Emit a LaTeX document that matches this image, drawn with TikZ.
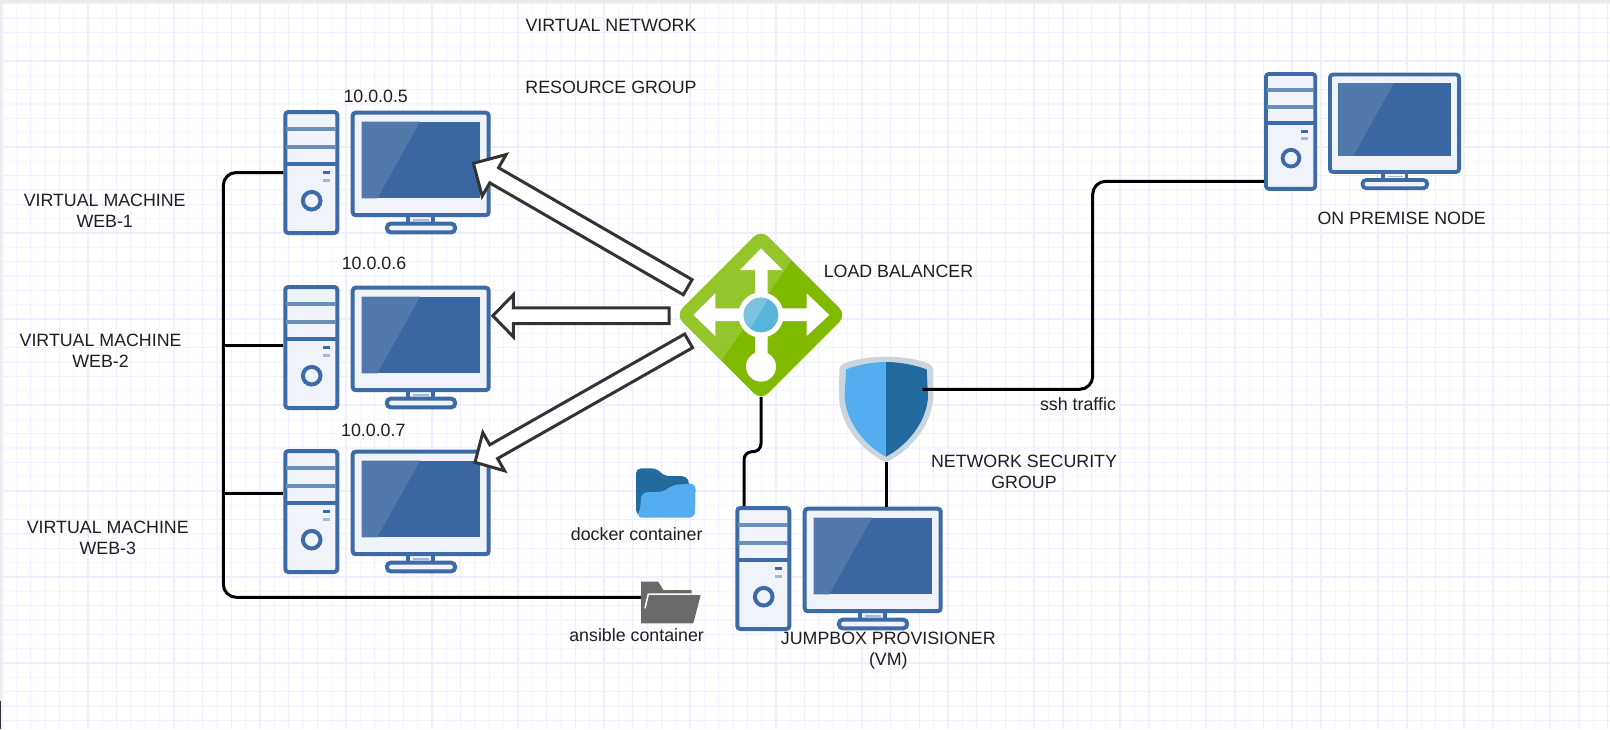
\documentclass[tikz,border=0pt]{standalone}
\usepackage{fontspec}
\setmainfont{Liberation Sans}
\usetikzlibrary{calc}
\definecolor{pcblue}{HTML}{3C6BA7}
\definecolor{pcstripe}{HTML}{6A8FBB}
\definecolor{pcpale}{HTML}{A3B9D5}
\definecolor{pcfill}{HTML}{F0F3F9}
\definecolor{scr}{HTML}{3A66A2}
\definecolor{scrlight}{HTML}{5279AC}
\definecolor{gridmaj}{HTML}{F0EEFF}
\definecolor{gridmin}{HTML}{F7F6FF}
\definecolor{lbgreen}{HTML}{7FB900}
\definecolor{lblight}{HTML}{94C62B}
\definecolor{lbblue}{HTML}{59B4D9}
\definecolor{lbbluel}{HTML}{7CC1E0}
\definecolor{shrim}{HTML}{C9D6DF}
\definecolor{shl}{HTML}{55ACEE}
\definecolor{shd}{HTML}{236A9E}
\definecolor{foldgrey}{HTML}{6A6A6A}
\definecolor{arrline}{HTML}{333333}
\definecolor{txt}{HTML}{1E1E1E}
\tikzset{
  x=1pt, y=-1pt,
  lbl/.style={font=\fontsize{17.8}{21}\selectfont, inner sep=0pt, align=center, text=txt},
  ghost/.style={inner sep=0pt, outer sep=0pt, draw=none, fill=none},
  wire/.style={line width=3pt, draw=black, line cap=butt},
  pcline/.style={draw=pcblue, fill=pcfill},
  blockarr/.style={draw=arrline, fill=white, line width=3pt, line join=miter, miter limit=10},
}
\newcommand{\computer}[4]{%
  \begin{scope}[shift={(#2,#3)}, scale=#4]
    \pgfmathsetlengthmacro{\lw}{4pt*#4}
    \draw[pcline, line width=\lw, rounded corners=3pt] (2,2) rectangle (54,123);
    \draw[draw=pcstripe, line width=\lw] (3,19.3) -- (53,19.3);
    \draw[draw=pcstripe, line width=\lw] (3,36.7) -- (53,36.7);
    \draw[draw=pcblue, line width=\lw] (3,54) -- (53,54);
    \draw[draw=pcblue, line width=\lw, fill=pcfill] (28.4,90.7) circle (8.8);
    \fill[pcblue] (39.4,61.2) rectangle (46.7,64.2);
    \fill[pcpale] (39.4,68.6) rectangle (46.7,72);
    \fill[pcfill] (125,104) rectangle (150,113);
    \draw[draw=pcblue, line width=\lw] (125,105) -- (125,113) (150,105) -- (150,113);
    \fill[pcpale] (130,109) rectangle (146,111);
    \draw[pcline, line width=\lw, rounded corners=4pt] (103.6,113.6) rectangle (171.8,122.4);
    \draw[pcline, line width=\lw, rounded corners=3pt] (69.4,2.7) rectangle (205.4,105.2);
    \fill[scr] (78.2,11.7) rectangle (196.7,88.3);
    \fill[scrlight] (78.2,11.7) -- (136.7,11.7) -- (94,88.3) -- (78.2,88.3) -- cycle;
    \node[ghost, anchor=north west, minimum width=56pt, minimum height=125pt, transform shape] (#1t) at (0,0) {};
    \node[ghost, anchor=north west, minimum width=140pt, minimum height=106.5pt, transform shape] (#1m) at (67.4,0.7) {};
  \end{scope}}
\newcommand{\blockarrow}[5]{% tail, tip, shaft half, head half, head length
  \draw[blockarr]
    ($(#1)!#3!90:(#2)$) --
    ($(#2)!#5!(#1)!#3!-90:(#1)$) --
    ($(#2)!#5!(#1)!#4!-90:(#1)$) --
    (#2) --
    ($(#2)!#5!(#1)!#4!90:(#1)$) --
    ($(#2)!#5!(#1)!#3!90:(#1)$) --
    ($(#1)!#3!-90:(#2)$) -- cycle;}
\begin{document}
\begin{tikzpicture}
\useasboundingbox (0,0) rectangle (1610,729);
\fill[white] (0,0) rectangle (1610,729);
% grid
\foreach \k in {0,...,56} {
  \draw[gridmin, line width=1.2pt] ({16.33+28.67*\k},0) -- ({16.33+28.67*\k},729);
}
\foreach \k in {0,...,25} {
  \draw[gridmin, line width=1.2pt] (0,{18+28.67*\k}) -- (1610,{18+28.67*\k});
}
\foreach \k in {0,...,56} {
  \draw[gridmaj, line width=1.4pt] ({2+28.67*\k},0) -- ({2+28.67*\k},729);
}
\foreach \k in {0,...,25} {
  \draw[gridmaj, line width=1.4pt] (0,{3.7+28.67*\k}) -- (1610,{3.7+28.67*\k});
}
\fill[black!8] (0,0) rectangle (1610,2.6);
\fill[black!8] (0,0) rectangle (1.2,701);
\fill[arrline] (0,701) rectangle (1.2,729);

% computers
\computer{a}{283.3}{110}{1}
\computer{b}{283.3}{285}{1}
\computer{c}{283.3}{449}{1}
\computer{j}{735.3}{506}{1}
\computer{p}{1264}{72}{0.95}

% load balancer
\begin{scope}[shift={(640,210)}, scale=1/3]
  \begin{scope}
    \clip[rounded corners=10pt] (363,59) -- (619,315) -- (363,571) -- (107,315) -- cycle;
    \fill[lbgreen] (90,40) rectangle (640,590);
    \fill[lblight] (90,40) -- (538,40) -- (455,150) -- (245,450) -- (90,600) -- cycle;
  \end{scope}
  \fill[white] (363,115) -- (428,180) -- (383,180) -- (383,295) -- (500,295) -- (500,250) -- (568,315)
     -- (500,378) -- (500,333) -- (383,333) -- (383,430) -- (345,430) -- (345,333) -- (226,333)
     -- (226,378) -- (160,315) -- (226,250) -- (226,295) -- (345,295) -- (345,180) -- (300,180) -- cycle;
  \fill[white] (363,315) circle (68);
  \fill[white] (363,470) circle (45);
  \fill[lbblue] (363,315) circle (52);
  \begin{scope}
    \clip (363,315) circle (52);
    \fill[lbbluel] (300,250) -- (395,250) -- (325,365) -- (300,365) -- cycle;
  \end{scope}
  \node[ghost, minimum width=164pt, minimum height=163pt] (lb) at (363,316) {};
\end{scope}

% shield
\begin{scope}[shift={(640,210)}, scale=1/3]
  \fill[shrim] (738,440) .. controls (690,440) and (640,448) .. (608,462)
     .. controls (600,466) and (598,472) .. (598,480)
     -- (597,560) .. controls (600,650) and (670,725) .. (738,757)
     .. controls (806,725) and (876,650) .. (880,560) -- (879,480)
     .. controls (879,472) and (877,466) .. (869,462)
     .. controls (836,448) and (786,440) .. (738,440) -- cycle;
  \fill[shl] (738,456) .. controls (695,456) and (655,465) .. (618,478)
     -- (614,560) .. controls (618,640) and (680,710) .. (738,740) -- cycle;
  \fill[shd] (738,456) .. controls (781,456) and (823,465) .. (860,478)
     -- (864,560) .. controls (860,640) and (796,710) .. (738,740) -- cycle;
  \node[ghost, minimum width=94pt, minimum height=105pt] (shield) at (738.5,598.5) {};
\end{scope}

% folders
\begin{scope}[shift={(540,440)}, scale=1/3]
  \fill[shd, rounded corners=5pt] (288,85) -- (350,85) -- (372,108) -- (440,108) -- (448,130) -- (448,225) -- (288,225) -- cycle;
  \fill[shl, rounded corners=6pt] (304,157) -- (375,155) -- (395,135) -- (467,130) -- (465,233) -- (288,233) -- (300,215) -- cycle;
  \node[ghost, minimum width=60pt, minimum height=50pt] (docker) at (377,159) {};
  \fill[foldgrey] (303,425) -- (355,425) -- (370,450) -- (455,450) -- (455,465) -- (482,465) -- (460,550) -- (303,550) -- cycle;
  \draw[white, line width=1.5pt] (455,462) -- (325,462) -- (315,505);
  \node[ghost, minimum width=60pt, minimum height=42pt] (ans) at (393,487) {};
\end{scope}

% wires
\coordinate (busx) at (223.3,172.5);
\coordinate (busb) at (223.3,345);
\coordinate (busc) at (223.3,493.3);
\coordinate (busd) at (223.3,597.3);
\draw[wire, rounded corners=13pt] (at.west) -- (busx) -- (busd) -- (busd -| ans.west);
\draw[wire] (busb) -- (busb -| bt.west);
\draw[wire] (busc) -- (busc -| ct.west);

\coordinate (lbmid) at (752,451.7);
\coordinate (jtop) at (744,506);
\draw[wire, rounded corners=8pt] (lb.south) -- (lb.south |- lbmid) -- (lbmid -| jtop) -- (jtop);
\draw[wire] (shield.south) -- (shield.south |- jm.north);

\coordinate (shout) at (922.7,389.3);
\coordinate (sshk) at (1092.7,389.3);
\coordinate (sshu) at (1092.7,181.3);
\draw[wire, rounded corners=13pt] (shout) -- (sshk) -- (sshu) -- (sshu -| pt.west);

% block arrows
\coordinate (a1s) at (687.7,287.2);
\coordinate (a1e) at (473.4,163.3);
\coordinate (a2s) at (669,315.8);
\coordinate (a2e) at (492.8,315.8);
\coordinate (a3s) at (688.6,340.9);
\coordinate (a3e) at (475,462.3);
\blockarrow{a1s}{a1e}{8.75pt}{24pt}{24pt}
\blockarrow{a2s}{a2e}{7.9pt}{21pt}{20.5pt}
\blockarrow{a3s}{a3e}{7.9pt}{22pt}{21.5pt}

% labels
\node[lbl] (t1) at (611,25.2) {VIRTUAL NETWORK};
\node[lbl] (t2) at (611,87) {RESOURCE GROUP};
\node[lbl] (t3) at (375.7,96.7) {10.0.0.5};
\node[lbl] (t4) at (374,263) {10.0.0.6};
\node[lbl] (t5) at (373.3,430) {10.0.0.7};
\node[lbl] (t6) at (104.7,211) {VIRTUAL MACHINE\\WEB-1};
\node[lbl] (t7) at (100.6,350.5) {VIRTUAL MACHINE\\WEB-2};
\node[lbl] (t8) at (107.8,537.5) {VIRTUAL MACHINE\\WEB-3};
\node[lbl] (t9) at (898.5,271) {LOAD BALANCER};
\node[lbl] (t10) at (1078,404.6) {ssh traffic};
\node[lbl] (t11) at (1024,472) {NETWORK SECURITY\\GROUP};
\node[lbl] (t12) at (636.7,534.3) {docker container};
\node[lbl] (t13) at (636.6,635) {ansible container};
\node[lbl] (t14) at (888.3,651) {JUMPBOX PROVISIONER\\(VM)};
\node[lbl] (t15) at (1401.7,218.3) {ON PREMISE NODE};
\end{tikzpicture}
\end{document}
